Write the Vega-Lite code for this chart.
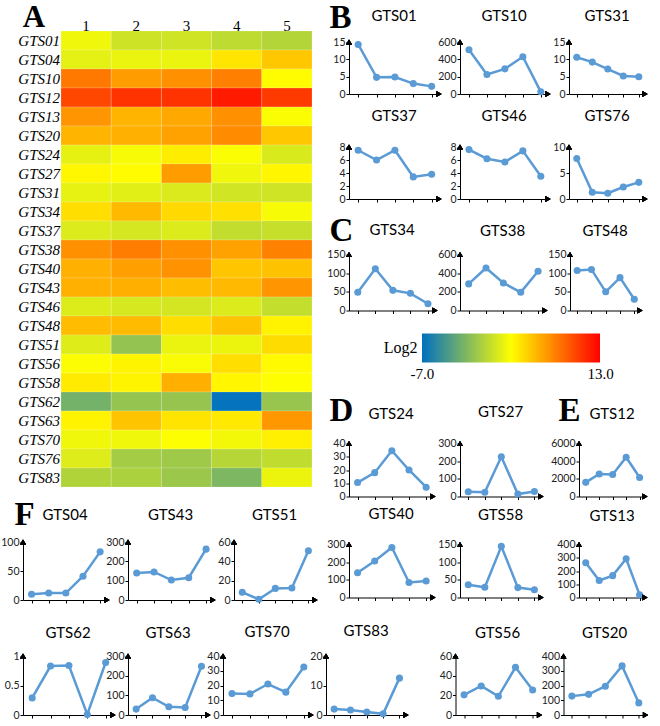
{
"$schema":"https://vega.github.io/schema/vega-lite/v6.json",
"padding":{"left":0,"top":1,"right":0,"bottom":0},
"background":"white",
"datasets":{"expr":[
{"g":"GTS01","t":1,"v":14.3},{"g":"GTS01","t":2,"v":4.8},{"g":"GTS01","t":3,"v":4.9},{"g":"GTS01","t":4,"v":3.0},{"g":"GTS01","t":5,"v":2.2},
{"g":"GTS04","t":1,"v":10},{"g":"GTS04","t":2,"v":12},{"g":"GTS04","t":3,"v":12},{"g":"GTS04","t":4,"v":41},{"g":"GTS04","t":5,"v":83},
{"g":"GTS10","t":1,"v":510},{"g":"GTS10","t":2,"v":225},{"g":"GTS10","t":3,"v":290},{"g":"GTS10","t":4,"v":430},{"g":"GTS10","t":5,"v":25},
{"g":"GTS12","t":1,"v":1600},{"g":"GTS12","t":2,"v":2550},{"g":"GTS12","t":3,"v":2500},{"g":"GTS12","t":4,"v":4450},{"g":"GTS12","t":5,"v":2150},
{"g":"GTS13","t":1,"v":262},{"g":"GTS13","t":2,"v":128},{"g":"GTS13","t":3,"v":165},{"g":"GTS13","t":4,"v":292},{"g":"GTS13","t":5,"v":20},
{"g":"GTS20","t":1,"v":128},{"g":"GTS20","t":2,"v":140},{"g":"GTS20","t":3,"v":195},{"g":"GTS20","t":4,"v":333},{"g":"GTS20","t":5,"v":82},
{"g":"GTS24","t":1,"v":10.5},{"g":"GTS24","t":2,"v":18},{"g":"GTS24","t":3,"v":34.5},{"g":"GTS24","t":4,"v":20},{"g":"GTS24","t":5,"v":7},
{"g":"GTS27","t":1,"v":27},{"g":"GTS27","t":2,"v":24},{"g":"GTS27","t":3,"v":225},{"g":"GTS27","t":4,"v":14},{"g":"GTS27","t":5,"v":28},
{"g":"GTS31","t":1,"v":10.6},{"g":"GTS31","t":2,"v":9.2},{"g":"GTS31","t":3,"v":7.2},{"g":"GTS31","t":4,"v":5.2},{"g":"GTS31","t":5,"v":5.0},
{"g":"GTS34","t":1,"v":49},{"g":"GTS34","t":2,"v":112},{"g":"GTS34","t":3,"v":54},{"g":"GTS34","t":4,"v":46},{"g":"GTS34","t":5,"v":18},
{"g":"GTS37","t":1,"v":7.5},{"g":"GTS37","t":2,"v":6.0},{"g":"GTS37","t":3,"v":7.5},{"g":"GTS37","t":4,"v":3.4},{"g":"GTS37","t":5,"v":3.8},
{"g":"GTS38","t":1,"v":285},{"g":"GTS38","t":2,"v":455},{"g":"GTS38","t":3,"v":295},{"g":"GTS38","t":4,"v":195},{"g":"GTS38","t":5,"v":420},
{"g":"GTS40","t":1,"v":140},{"g":"GTS40","t":2,"v":207},{"g":"GTS40","t":3,"v":283},{"g":"GTS40","t":4,"v":85},{"g":"GTS40","t":5,"v":93},
{"g":"GTS43","t":1,"v":140},{"g":"GTS43","t":2,"v":145},{"g":"GTS43","t":3,"v":103},{"g":"GTS43","t":4,"v":115},{"g":"GTS43","t":5,"v":263},
{"g":"GTS46","t":1,"v":7.6},{"g":"GTS46","t":2,"v":6.2},{"g":"GTS46","t":3,"v":5.7},{"g":"GTS46","t":4,"v":7.4},{"g":"GTS46","t":5,"v":3.5},
{"g":"GTS48","t":1,"v":107},{"g":"GTS48","t":2,"v":110},{"g":"GTS48","t":3,"v":50},{"g":"GTS48","t":4,"v":88},{"g":"GTS48","t":5,"v":30},
{"g":"GTS51","t":1,"v":8},{"g":"GTS51","t":2,"v":0.8},{"g":"GTS51","t":3,"v":12},{"g":"GTS51","t":4,"v":12.5},{"g":"GTS51","t":5,"v":51},
{"g":"GTS56","t":1,"v":20.5},{"g":"GTS56","t":2,"v":29.5},{"g":"GTS56","t":3,"v":19},{"g":"GTS56","t":4,"v":48.5},{"g":"GTS56","t":5,"v":25.5},
{"g":"GTS58","t":1,"v":36},{"g":"GTS58","t":2,"v":29},{"g":"GTS58","t":3,"v":145},{"g":"GTS58","t":4,"v":28},{"g":"GTS58","t":5,"v":22},
{"g":"GTS62","t":1,"v":0.29},{"g":"GTS62","t":2,"v":0.83},{"g":"GTS62","t":3,"v":0.84},{"g":"GTS62","t":4,"v":0.009},{"g":"GTS62","t":5,"v":0.89},
{"g":"GTS63","t":1,"v":30},{"g":"GTS63","t":2,"v":88},{"g":"GTS63","t":3,"v":42},{"g":"GTS63","t":4,"v":38},{"g":"GTS63","t":5,"v":248},
{"g":"GTS70","t":1,"v":14.5},{"g":"GTS70","t":2,"v":14.3},{"g":"GTS70","t":3,"v":21},{"g":"GTS70","t":4,"v":15.5},{"g":"GTS70","t":5,"v":32.5},
{"g":"GTS76","t":1,"v":7.8},{"g":"GTS76","t":2,"v":1.3},{"g":"GTS76","t":3,"v":1.1},{"g":"GTS76","t":4,"v":2.3},{"g":"GTS76","t":5,"v":3.2},
{"g":"GTS83","t":1,"v":2.0},{"g":"GTS83","t":2,"v":1.7},{"g":"GTS83","t":3,"v":1.0},{"g":"GTS83","t":4,"v":0.4},{"g":"GTS83","t":5,"v":12.5}
]},
"data":{"name":"expr"},
"spacing":18,
"vconcat":[
{"hconcat":[
 {"vconcat":[
  {"width":289,"height":445,
   "title":{"text":"A","anchor":"start","frame":"bounds","offset":-16,"dx":5,"font":"Liberation Serif","fontSize":31,"fontWeight":"bold"},
   "mark":{"type":"rect","stroke":"#ffffff","strokeWidth":0.5,"strokeOpacity":0.35},
   "encoding":{
    "x":{"field":"t","type":"ordinal","scale":{"range":[38,289]},"axis":{"orient":"top","offset":6,"title":null,"labelAngle":0,"ticks":false,"domain":false,"labelFont":"Liberation Serif","labelFontSize":15,"labelColor":"#000","labelPadding":3}},
    "y":{"field":"g","type":"ordinal","scale":{"range":[-11,445]},"axis":{"offset":-38,"title":null,"ticks":false,"domain":false,"labelFont":"Liberation Serif","labelFontStyle":"italic","labelFontSize":15,"labelColor":"#000","labelPadding":1.5}},
    "color":{"field":"v","type":"quantitative","legend":null,"scale":{"type":"log","base":2,"domain":[0.0078125,22.627,8192],"range":["#0070C0","#FFFF00","#FF0000"],"interpolate":"rgb","clamp":true}}
   }},
  {"hconcat":[
   {"title":{"text":"GTS04","offset":-24.5},"width":84,"height":58,"transform":[{"filter":"datum.g==='GTS04'"}],
    "encoding":{"x":{"field":"t","type":"quantitative","scale":{"domain":[0.5,5.4]},"axis":{"title":null,"values":[1,2,3,4,5],"labels":false}},
     "y":{"field":"v","type":"quantitative","scale":{"domain":[0,100]},"axis":{"values":[0,50,100],"title":"F","titleAngle":0,"titleX":-9,"titleY":-18,"titleAlign":"left","titleBaseline":"alphabetic"}}},
    "layer":[{"mark":{"type":"line","color":"#5B9BD5","strokeWidth":2.5}},{"mark":{"type":"point","filled":true,"color":"#5B9BD5","size":50,"opacity":1}},
     {"mark":{"type":"point","shape":"triangle-up","filled":true,"color":"#000","size":36,"opacity":1},"encoding":{"x":{"datum":0.5,"type":"quantitative"},"y":{"datum":100,"type":"quantitative"}}},
     {"mark":{"type":"point","shape":"triangle-right","filled":true,"color":"#000","size":36,"opacity":1},"encoding":{"x":{"datum":5.4,"type":"quantitative"},"y":{"datum":0,"type":"quantitative"}}}]},
   {"title":{"text":"GTS43","offset":14},"width":85,"height":58,"transform":[{"filter":"datum.g==='GTS43'"}],
    "encoding":{"x":{"field":"t","type":"quantitative","scale":{"domain":[0.5,5.4]},"axis":{"title":null,"values":[1,2,3,4,5],"labels":false}},
     "y":{"field":"v","type":"quantitative","scale":{"domain":[0,300]},"axis":{"values":[0,100,200,300],"title":null}}},
    "layer":[{"mark":{"type":"line","color":"#5B9BD5","strokeWidth":2.5}},{"mark":{"type":"point","filled":true,"color":"#5B9BD5","size":50,"opacity":1}},
     {"mark":{"type":"point","shape":"triangle-up","filled":true,"color":"#000","size":36,"opacity":1},"encoding":{"x":{"datum":0.5,"type":"quantitative"},"y":{"datum":300,"type":"quantitative"}}},
     {"mark":{"type":"point","shape":"triangle-right","filled":true,"color":"#000","size":36,"opacity":1},"encoding":{"x":{"datum":5.4,"type":"quantitative"},"y":{"datum":0,"type":"quantitative"}}}]},
   {"title":{"text":"GTS51","offset":14},"width":81,"height":58,"transform":[{"filter":"datum.g==='GTS51'"}],
    "encoding":{"x":{"field":"t","type":"quantitative","scale":{"domain":[0.5,5.4]},"axis":{"title":null,"values":[1,2,3,4,5],"labels":false}},
     "y":{"field":"v","type":"quantitative","scale":{"domain":[0,60]},"axis":{"values":[0,20,40,60],"title":null}}},
    "layer":[{"mark":{"type":"line","color":"#5B9BD5","strokeWidth":2.5}},{"mark":{"type":"point","filled":true,"color":"#5B9BD5","size":50,"opacity":1}},
     {"mark":{"type":"point","shape":"triangle-up","filled":true,"color":"#000","size":36,"opacity":1},"encoding":{"x":{"datum":0.5,"type":"quantitative"},"y":{"datum":60,"type":"quantitative"}}},
     {"mark":{"type":"point","shape":"triangle-right","filled":true,"color":"#000","size":36,"opacity":1},"encoding":{"x":{"datum":5.4,"type":"quantitative"},"y":{"datum":0,"type":"quantitative"}}}]}
  ],"bounds":"flush","spacing":21}
 ],"spacing":0},
 {"vconcat":[
  {"vconcat":[
   {"concat":[
    {"title":{"text":"GTS01","offset":-22.5},"width":90,"height":52,"transform":[{"filter":"datum.g==='GTS01'"}],
     "encoding":{"x":{"field":"t","type":"quantitative","scale":{"domain":[0.5,5.4]},"axis":{"title":null,"values":[1,2,3,4,5],"labels":false}},
      "y":{"field":"v","type":"quantitative","scale":{"domain":[0,15]},"axis":{"values":[0,5,10,15],"title":"B","titleAngle":0,"titleX":-20,"titleY":-15,"titleAlign":"left","titleBaseline":"alphabetic"}}},
     "layer":[{"mark":{"type":"line","color":"#5B9BD5","strokeWidth":2.5}},{"mark":{"type":"point","filled":true,"color":"#5B9BD5","size":50,"opacity":1}},
      {"mark":{"type":"point","shape":"triangle-up","filled":true,"color":"#000","size":36,"opacity":1},"encoding":{"x":{"datum":0.5,"type":"quantitative"},"y":{"datum":15,"type":"quantitative"}}},
      {"mark":{"type":"point","shape":"triangle-right","filled":true,"color":"#000","size":36,"opacity":1},"encoding":{"x":{"datum":5.4,"type":"quantitative"},"y":{"datum":0,"type":"quantitative"}}}]},
    {"title":{"text":"GTS10","offset":13},"width":88,"height":52,"transform":[{"filter":"datum.g==='GTS10'"}],
     "encoding":{"x":{"field":"t","type":"quantitative","scale":{"domain":[0.5,5.4]},"axis":{"title":null,"values":[1,2,3,4,5],"labels":false}},
      "y":{"field":"v","type":"quantitative","scale":{"domain":[0,600]},"axis":{"values":[0,200,400,600],"title":null}}},
     "layer":[{"mark":{"type":"line","color":"#5B9BD5","strokeWidth":2.5}},{"mark":{"type":"point","filled":true,"color":"#5B9BD5","size":50,"opacity":1}},
      {"mark":{"type":"point","shape":"triangle-up","filled":true,"color":"#000","size":36,"opacity":1},"encoding":{"x":{"datum":0.5,"type":"quantitative"},"y":{"datum":600,"type":"quantitative"}}},
      {"mark":{"type":"point","shape":"triangle-right","filled":true,"color":"#000","size":36,"opacity":1},"encoding":{"x":{"datum":5.4,"type":"quantitative"},"y":{"datum":0,"type":"quantitative"}}}]},
    {"title":{"text":"GTS31","offset":13},"width":76,"height":52,"transform":[{"filter":"datum.g==='GTS31'"}],
     "encoding":{"x":{"field":"t","type":"quantitative","scale":{"domain":[0.5,5.4]},"axis":{"title":null,"values":[1,2,3,4,5],"labels":false}},
      "y":{"field":"v","type":"quantitative","scale":{"domain":[0,15]},"axis":{"values":[0,5,10,15],"title":null}}},
     "layer":[{"mark":{"type":"line","color":"#5B9BD5","strokeWidth":2.5}},{"mark":{"type":"point","filled":true,"color":"#5B9BD5","size":50,"opacity":1}},
      {"mark":{"type":"point","shape":"triangle-up","filled":true,"color":"#000","size":36,"opacity":1},"encoding":{"x":{"datum":0.5,"type":"quantitative"},"y":{"datum":15,"type":"quantitative"}}},
      {"mark":{"type":"point","shape":"triangle-right","filled":true,"color":"#000","size":36,"opacity":1},"encoding":{"x":{"datum":5.4,"type":"quantitative"},"y":{"datum":0,"type":"quantitative"}}}]},
    {"title":{"text":"GTS37","offset":18},"width":90,"height":52,"transform":[{"filter":"datum.g==='GTS37'"}],
     "encoding":{"x":{"field":"t","type":"quantitative","scale":{"domain":[0.5,5.4]},"axis":{"title":null,"values":[1,2,3,4,5],"labels":false}},
      "y":{"field":"v","type":"quantitative","scale":{"domain":[0,8]},"axis":{"values":[0,2,4,6,8],"title":null}}},
     "layer":[{"mark":{"type":"line","color":"#5B9BD5","strokeWidth":2.5}},{"mark":{"type":"point","filled":true,"color":"#5B9BD5","size":50,"opacity":1}},
      {"mark":{"type":"point","shape":"triangle-up","filled":true,"color":"#000","size":36,"opacity":1},"encoding":{"x":{"datum":0.5,"type":"quantitative"},"y":{"datum":8,"type":"quantitative"}}},
      {"mark":{"type":"point","shape":"triangle-right","filled":true,"color":"#000","size":36,"opacity":1},"encoding":{"x":{"datum":5.4,"type":"quantitative"},"y":{"datum":0,"type":"quantitative"}}}]},
    {"title":{"text":"GTS46","offset":18},"width":88,"height":52,"transform":[{"filter":"datum.g==='GTS46'"}],
     "encoding":{"x":{"field":"t","type":"quantitative","scale":{"domain":[0.5,5.4]},"axis":{"title":null,"values":[1,2,3,4,5],"labels":false}},
      "y":{"field":"v","type":"quantitative","scale":{"domain":[0,8]},"axis":{"values":[0,2,4,6,8],"title":null}}},
     "layer":[{"mark":{"type":"line","color":"#5B9BD5","strokeWidth":2.5}},{"mark":{"type":"point","filled":true,"color":"#5B9BD5","size":50,"opacity":1}},
      {"mark":{"type":"point","shape":"triangle-up","filled":true,"color":"#000","size":36,"opacity":1},"encoding":{"x":{"datum":0.5,"type":"quantitative"},"y":{"datum":8,"type":"quantitative"}}},
      {"mark":{"type":"point","shape":"triangle-right","filled":true,"color":"#000","size":36,"opacity":1},"encoding":{"x":{"datum":5.4,"type":"quantitative"},"y":{"datum":0,"type":"quantitative"}}}]},
    {"title":{"text":"GTS76","offset":18},"width":76,"height":52,"transform":[{"filter":"datum.g==='GTS76'"}],
     "encoding":{"x":{"field":"t","type":"quantitative","scale":{"domain":[0.5,5.4]},"axis":{"title":null,"values":[1,2,3,4,5],"labels":false}},
      "y":{"field":"v","type":"quantitative","scale":{"domain":[0,10]},"axis":{"values":[0,5,10],"title":null}}},
     "layer":[{"mark":{"type":"line","color":"#5B9BD5","strokeWidth":2.5}},{"mark":{"type":"point","filled":true,"color":"#5B9BD5","size":50,"opacity":1}},
      {"mark":{"type":"point","shape":"triangle-up","filled":true,"color":"#000","size":36,"opacity":1},"encoding":{"x":{"datum":0.5,"type":"quantitative"},"y":{"datum":10,"type":"quantitative"}}},
      {"mark":{"type":"point","shape":"triangle-right","filled":true,"color":"#000","size":36,"opacity":1},"encoding":{"x":{"datum":5.4,"type":"quantitative"},"y":{"datum":0,"type":"quantitative"}}}]}
   ],"columns":3,"bounds":"flush","align":"each","spacing":{"row":53,"column":21}},
   {"hconcat":[
    {"title":{"text":"GTS34","offset":-23.5},"width":86,"height":56,"transform":[{"filter":"datum.g==='GTS34'"}],
     "encoding":{"x":{"field":"t","type":"quantitative","scale":{"domain":[0.5,5.4]},"axis":{"title":null,"values":[1,2,3,4,5],"labels":false}},
      "y":{"field":"v","type":"quantitative","scale":{"domain":[0,150]},"axis":{"values":[0,50,100,150],"title":"C","titleAngle":0,"titleX":-20,"titleY":-14,"titleAlign":"left","titleBaseline":"alphabetic"}}},
     "layer":[{"mark":{"type":"line","color":"#5B9BD5","strokeWidth":2.5}},{"mark":{"type":"point","filled":true,"color":"#5B9BD5","size":50,"opacity":1}},
      {"mark":{"type":"point","shape":"triangle-up","filled":true,"color":"#000","size":36,"opacity":1},"encoding":{"x":{"datum":0.5,"type":"quantitative"},"y":{"datum":150,"type":"quantitative"}}},
      {"mark":{"type":"point","shape":"triangle-right","filled":true,"color":"#000","size":36,"opacity":1},"encoding":{"x":{"datum":5.4,"type":"quantitative"},"y":{"datum":0,"type":"quantitative"}}}]},
    {"title":{"text":"GTS38","offset":11},"width":85,"height":56,"transform":[{"filter":"datum.g==='GTS38'"}],
     "encoding":{"x":{"field":"t","type":"quantitative","scale":{"domain":[0.5,5.4]},"axis":{"title":null,"values":[1,2,3,4,5],"labels":false}},
      "y":{"field":"v","type":"quantitative","scale":{"domain":[0,600]},"axis":{"values":[0,200,400,600],"title":null}}},
     "layer":[{"mark":{"type":"line","color":"#5B9BD5","strokeWidth":2.5}},{"mark":{"type":"point","filled":true,"color":"#5B9BD5","size":50,"opacity":1}},
      {"mark":{"type":"point","shape":"triangle-up","filled":true,"color":"#000","size":36,"opacity":1},"encoding":{"x":{"datum":0.5,"type":"quantitative"},"y":{"datum":600,"type":"quantitative"}}},
      {"mark":{"type":"point","shape":"triangle-right","filled":true,"color":"#000","size":36,"opacity":1},"encoding":{"x":{"datum":5.4,"type":"quantitative"},"y":{"datum":0,"type":"quantitative"}}}]},
    {"title":{"text":"GTS48","offset":11},"width":70,"height":56,"transform":[{"filter":"datum.g==='GTS48'"}],
     "encoding":{"x":{"field":"t","type":"quantitative","scale":{"domain":[0.5,5.4]},"axis":{"title":null,"values":[1,2,3,4,5],"labels":false}},
      "y":{"field":"v","type":"quantitative","scale":{"domain":[0,150]},"axis":{"values":[0,50,100,150],"title":null}}},
     "layer":[{"mark":{"type":"line","color":"#5B9BD5","strokeWidth":2.5}},{"mark":{"type":"point","filled":true,"color":"#5B9BD5","size":50,"opacity":1}},
      {"mark":{"type":"point","shape":"triangle-up","filled":true,"color":"#000","size":36,"opacity":1},"encoding":{"x":{"datum":0.5,"type":"quantitative"},"y":{"datum":150,"type":"quantitative"}}},
      {"mark":{"type":"point","shape":"triangle-right","filled":true,"color":"#000","size":36,"opacity":1},"encoding":{"x":{"datum":5.4,"type":"quantitative"},"y":{"datum":0,"type":"quantitative"}}}]}
   ],"bounds":"flush","spacing":25}
  ],"spacing":9.5},
  {"vconcat":[
   {"width":251,"height":29,
    "data":{"values":[{"lo":-7,"hi":13}]},
    "mark":{"type":"rect","fill":{"gradient":"linear","stops":[{"offset":0,"color":"#0070C0"},{"offset":0.5,"color":"#FFFF00"},{"offset":1,"color":"#FF0000"}]}},
    "encoding":{
     "x":{"field":"lo","type":"quantitative","scale":{"domain":[-15.202,13],"nice":false,"zero":false},"axis":{"values":[-7,13],"format":".1f","labelExpr":"replace(datum.label, '\u2212', '-')","ticks":false,"domain":false,"labelFlush":false,"labelFont":"Liberation Serif","labelFontSize":15,"labelColor":"#000","labelPadding":4,"title":"Log2","titleX":68,"titleY":-15,"titleAngle":0,"titleAlign":"right","titleBaseline":"middle","titleFont":"Liberation Serif","titleFontSize":16,"titleFontWeight":"normal"}},
     "x2":{"field":"hi"}
    }},
   {"hconcat":[
    {"concat":[
     {"title":{"text":"GTS24","offset":-27.5},"width":84,"height":53,"transform":[{"filter":"datum.g==='GTS24'"}],
      "encoding":{"x":{"field":"t","type":"quantitative","scale":{"domain":[0.5,5.4]},"axis":{"title":null,"values":[1,2,3,4,5],"labels":false}},
       "y":{"field":"v","type":"quantitative","scale":{"domain":[0,40]},"axis":{"values":[0,10,20,30,40],"title":"D","titleAngle":0,"titleX":-20,"titleY":-23,"titleAlign":"left","titleBaseline":"alphabetic"}}},
      "layer":[{"mark":{"type":"line","color":"#5B9BD5","strokeWidth":2.5}},{"mark":{"type":"point","filled":true,"color":"#5B9BD5","size":50,"opacity":1}},
       {"mark":{"type":"point","shape":"triangle-up","filled":true,"color":"#000","size":36,"opacity":1},"encoding":{"x":{"datum":0.5,"type":"quantitative"},"y":{"datum":40,"type":"quantitative"}}},
       {"mark":{"type":"point","shape":"triangle-right","filled":true,"color":"#000","size":36,"opacity":1},"encoding":{"x":{"datum":5.4,"type":"quantitative"},"y":{"datum":0,"type":"quantitative"}}}]},
     {"title":{"text":"GTS27","offset":19},"width":81,"height":53,"transform":[{"filter":"datum.g==='GTS27'"}],
      "encoding":{"x":{"field":"t","type":"quantitative","scale":{"domain":[0.5,5.4]},"axis":{"title":null,"values":[1,2,3,4,5],"labels":false}},
       "y":{"field":"v","type":"quantitative","scale":{"domain":[0,300]},"axis":{"values":[0,100,200,300],"title":null}}},
      "layer":[{"mark":{"type":"line","color":"#5B9BD5","strokeWidth":2.5}},{"mark":{"type":"point","filled":true,"color":"#5B9BD5","size":50,"opacity":1}},
       {"mark":{"type":"point","shape":"triangle-up","filled":true,"color":"#000","size":36,"opacity":1},"encoding":{"x":{"datum":0.5,"type":"quantitative"},"y":{"datum":300,"type":"quantitative"}}},
       {"mark":{"type":"point","shape":"triangle-right","filled":true,"color":"#000","size":36,"opacity":1},"encoding":{"x":{"datum":5.4,"type":"quantitative"},"y":{"datum":0,"type":"quantitative"}}}]},
     {"title":{"text":"GTS40","offset":18},"width":84,"height":53,"transform":[{"filter":"datum.g==='GTS40'"}],
      "encoding":{"x":{"field":"t","type":"quantitative","scale":{"domain":[0.5,5.4]},"axis":{"title":null,"values":[1,2,3,4,5],"labels":false}},
       "y":{"field":"v","type":"quantitative","scale":{"domain":[0,300]},"axis":{"values":[0,100,200,300],"title":null}}},
      "layer":[{"mark":{"type":"line","color":"#5B9BD5","strokeWidth":2.5}},{"mark":{"type":"point","filled":true,"color":"#5B9BD5","size":50,"opacity":1}},
       {"mark":{"type":"point","shape":"triangle-up","filled":true,"color":"#000","size":36,"opacity":1},"encoding":{"x":{"datum":0.5,"type":"quantitative"},"y":{"datum":300,"type":"quantitative"}}},
       {"mark":{"type":"point","shape":"triangle-right","filled":true,"color":"#000","size":36,"opacity":1},"encoding":{"x":{"datum":5.4,"type":"quantitative"},"y":{"datum":0,"type":"quantitative"}}}]},
     {"title":{"text":"GTS58","offset":16.5},"width":81,"height":53,"transform":[{"filter":"datum.g==='GTS58'"}],
      "encoding":{"x":{"field":"t","type":"quantitative","scale":{"domain":[0.5,5.4]},"axis":{"title":null,"values":[1,2,3,4,5],"labels":false}},
       "y":{"field":"v","type":"quantitative","scale":{"domain":[0,150]},"axis":{"values":[0,50,100,150],"title":null}}},
      "layer":[{"mark":{"type":"line","color":"#5B9BD5","strokeWidth":2.5}},{"mark":{"type":"point","filled":true,"color":"#5B9BD5","size":50,"opacity":1}},
       {"mark":{"type":"point","shape":"triangle-up","filled":true,"color":"#000","size":36,"opacity":1},"encoding":{"x":{"datum":0.5,"type":"quantitative"},"y":{"datum":150,"type":"quantitative"}}},
       {"mark":{"type":"point","shape":"triangle-right","filled":true,"color":"#000","size":36,"opacity":1},"encoding":{"x":{"datum":5.4,"type":"quantitative"},"y":{"datum":0,"type":"quantitative"}}}]}
    ],"columns":2,"bounds":"flush","align":"each","spacing":{"row":48,"column":27}},
    {"vconcat":[
     {"title":{"text":"GTS12","offset":-27.5},"width":66,"height":53,"transform":[{"filter":"datum.g==='GTS12'"}],
      "encoding":{"x":{"field":"t","type":"quantitative","scale":{"domain":[0.5,5.4]},"axis":{"title":null,"values":[1,2,3,4,5],"labels":false}},
       "y":{"field":"v","type":"quantitative","scale":{"domain":[0,6000]},"axis":{"values":[0,2000,4000,6000],"format":"d","title":"E","titleAngle":0,"titleX":-21,"titleY":-23,"titleAlign":"left","titleBaseline":"alphabetic"}}},
      "layer":[{"mark":{"type":"line","color":"#5B9BD5","strokeWidth":2.5}},{"mark":{"type":"point","filled":true,"color":"#5B9BD5","size":50,"opacity":1}},
       {"mark":{"type":"point","shape":"triangle-up","filled":true,"color":"#000","size":36,"opacity":1},"encoding":{"x":{"datum":0.5,"type":"quantitative"},"y":{"datum":6000,"type":"quantitative"}}},
       {"mark":{"type":"point","shape":"triangle-right","filled":true,"color":"#000","size":36,"opacity":1},"encoding":{"x":{"datum":5.4,"type":"quantitative"},"y":{"datum":0,"type":"quantitative"}}}]},
     {"title":{"text":"GTS13","offset":16},"width":66,"height":53,"transform":[{"filter":"datum.g==='GTS13'"}],
      "encoding":{"x":{"field":"t","type":"quantitative","scale":{"domain":[0.5,5.4]},"axis":{"title":null,"values":[1,2,3,4,5],"labels":false}},
       "y":{"field":"v","type":"quantitative","scale":{"domain":[0,400]},"axis":{"values":[0,100,200,300,400],"title":null}}},
      "layer":[{"mark":{"type":"line","color":"#5B9BD5","strokeWidth":2.5}},{"mark":{"type":"point","filled":true,"color":"#5B9BD5","size":50,"opacity":1}},
       {"mark":{"type":"point","shape":"triangle-up","filled":true,"color":"#000","size":36,"opacity":1},"encoding":{"x":{"datum":0.5,"type":"quantitative"},"y":{"datum":400,"type":"quantitative"}}},
       {"mark":{"type":"point","shape":"triangle-right","filled":true,"color":"#000","size":36,"opacity":1},"encoding":{"x":{"datum":5.4,"type":"quantitative"},"y":{"datum":0,"type":"quantitative"}}}]}
    ],"bounds":"flush","spacing":48}
   ],"spacing":6}
  ],"spacing":13}
 ],"spacing":17.5}
],"spacing":8},
{"hconcat":[
 {"hconcat":[
  {"title":{"text":"GTS62","offset":10},"width":90,"height":59,"transform":[{"filter":"datum.g==='GTS62'"}],
   "encoding":{"x":{"field":"t","type":"quantitative","scale":{"domain":[0.5,5.4]},"axis":{"title":null,"values":[1,2,3,4,5],"labels":false}},
    "y":{"field":"v","type":"quantitative","scale":{"domain":[0,1]},"axis":{"values":[0,0.5,1],"format":"~g","title":null}}},
   "layer":[{"mark":{"type":"line","color":"#5B9BD5","strokeWidth":2.5}},{"mark":{"type":"point","filled":true,"color":"#5B9BD5","size":50,"opacity":1}},
    {"mark":{"type":"point","shape":"triangle-up","filled":true,"color":"#000","size":36,"opacity":1},"encoding":{"x":{"datum":0.5,"type":"quantitative"},"y":{"datum":1,"type":"quantitative"}}},
    {"mark":{"type":"point","shape":"triangle-right","filled":true,"color":"#000","size":36,"opacity":1},"encoding":{"x":{"datum":5.4,"type":"quantitative"},"y":{"datum":0,"type":"quantitative"}}}]},
  {"title":{"text":"GTS63","offset":10.5},"width":80,"height":59,"transform":[{"filter":"datum.g==='GTS63'"}],
   "encoding":{"x":{"field":"t","type":"quantitative","scale":{"domain":[0.5,5.4]},"axis":{"title":null,"values":[1,2,3,4,5],"labels":false}},
    "y":{"field":"v","type":"quantitative","scale":{"domain":[0,300]},"axis":{"values":[0,100,200,300],"title":null}}},
   "layer":[{"mark":{"type":"line","color":"#5B9BD5","strokeWidth":2.5}},{"mark":{"type":"point","filled":true,"color":"#5B9BD5","size":50,"opacity":1}},
    {"mark":{"type":"point","shape":"triangle-up","filled":true,"color":"#000","size":36,"opacity":1},"encoding":{"x":{"datum":0.5,"type":"quantitative"},"y":{"datum":300,"type":"quantitative"}}},
    {"mark":{"type":"point","shape":"triangle-right","filled":true,"color":"#000","size":36,"opacity":1},"encoding":{"x":{"datum":5.4,"type":"quantitative"},"y":{"datum":0,"type":"quantitative"}}}]},
  {"title":{"text":"GTS70","offset":11.5},"width":88,"height":59,"transform":[{"filter":"datum.g==='GTS70'"}],
   "encoding":{"x":{"field":"t","type":"quantitative","scale":{"domain":[0.5,5.4]},"axis":{"title":null,"values":[1,2,3,4,5],"labels":false}},
    "y":{"field":"v","type":"quantitative","scale":{"domain":[0,40]},"axis":{"values":[0,10,20,30,40],"title":null}}},
   "layer":[{"mark":{"type":"line","color":"#5B9BD5","strokeWidth":2.5}},{"mark":{"type":"point","filled":true,"color":"#5B9BD5","size":50,"opacity":1}},
    {"mark":{"type":"point","shape":"triangle-up","filled":true,"color":"#000","size":36,"opacity":1},"encoding":{"x":{"datum":0.5,"type":"quantitative"},"y":{"datum":40,"type":"quantitative"}}},
    {"mark":{"type":"point","shape":"triangle-right","filled":true,"color":"#000","size":36,"opacity":1},"encoding":{"x":{"datum":5.4,"type":"quantitative"},"y":{"datum":0,"type":"quantitative"}}}]},
  {"title":{"text":"GTS83","offset":12},"width":80,"height":59,"transform":[{"filter":"datum.g==='GTS83'"}],
   "encoding":{"x":{"field":"t","type":"quantitative","scale":{"domain":[0.5,5.4]},"axis":{"title":null,"values":[1,2,3,4,5],"labels":false}},
    "y":{"field":"v","type":"quantitative","scale":{"domain":[0,20]},"axis":{"values":[0,10,20],"title":null}}},
   "layer":[{"mark":{"type":"line","color":"#5B9BD5","strokeWidth":2.5}},{"mark":{"type":"point","filled":true,"color":"#5B9BD5","size":50,"opacity":1}},
    {"mark":{"type":"point","shape":"triangle-up","filled":true,"color":"#000","size":36,"opacity":1},"encoding":{"x":{"datum":0.5,"type":"quantitative"},"y":{"datum":20,"type":"quantitative"}}},
    {"mark":{"type":"point","shape":"triangle-right","filled":true,"color":"#000","size":36,"opacity":1},"encoding":{"x":{"datum":5.4,"type":"quantitative"},"y":{"datum":0,"type":"quantitative"}}}]}
 ],"bounds":"flush","spacing":15},
 {"hconcat":[
  {"title":{"text":"GTS56","offset":10},"width":84,"height":59,"transform":[{"filter":"datum.g==='GTS56'"}],
   "encoding":{"x":{"field":"t","type":"quantitative","scale":{"domain":[0.5,5.4]},"axis":{"title":null,"values":[1,2,3,4,5],"labels":false}},
    "y":{"field":"v","type":"quantitative","scale":{"domain":[0,60]},"axis":{"values":[0,20,40,60],"title":null}}},
   "layer":[{"mark":{"type":"line","color":"#5B9BD5","strokeWidth":2.5}},{"mark":{"type":"point","filled":true,"color":"#5B9BD5","size":50,"opacity":1}},
    {"mark":{"type":"point","shape":"triangle-up","filled":true,"color":"#000","size":36,"opacity":1},"encoding":{"x":{"datum":0.5,"type":"quantitative"},"y":{"datum":60,"type":"quantitative"}}},
    {"mark":{"type":"point","shape":"triangle-right","filled":true,"color":"#000","size":36,"opacity":1},"encoding":{"x":{"datum":5.4,"type":"quantitative"},"y":{"datum":0,"type":"quantitative"}}}]},
  {"title":{"text":"GTS20","offset":10},"width":82,"height":59,"transform":[{"filter":"datum.g==='GTS20'"}],
   "encoding":{"x":{"field":"t","type":"quantitative","scale":{"domain":[0.5,5.4]},"axis":{"title":null,"values":[1,2,3,4,5],"labels":false}},
    "y":{"field":"v","type":"quantitative","scale":{"domain":[0,400]},"axis":{"values":[0,100,200,300,400],"title":null}}},
   "layer":[{"mark":{"type":"line","color":"#5B9BD5","strokeWidth":2.5}},{"mark":{"type":"point","filled":true,"color":"#5B9BD5","size":50,"opacity":1}},
    {"mark":{"type":"point","shape":"triangle-up","filled":true,"color":"#000","size":36,"opacity":1},"encoding":{"x":{"datum":0.5,"type":"quantitative"},"y":{"datum":400,"type":"quantitative"}}},
    {"mark":{"type":"point","shape":"triangle-right","filled":true,"color":"#000","size":36,"opacity":1},"encoding":{"x":{"datum":5.4,"type":"quantitative"},"y":{"datum":0,"type":"quantitative"}}}]}
 ],"bounds":"flush","spacing":24}
],"spacing":29.5}
],
"config":{
 "view":{"stroke":null},
 "axis":{"grid":false,"domainColor":"#000","tickColor":"#000","labelFont":"Lato","labelFontSize":10.5,"labelColor":"#222","tickSize":3,"labelPadding":1,"titleFont":"Liberation Serif","titleFontSize":33,"titleFontWeight":"bold","titleColor":"#000"},
 "title":{"font":"Lato","fontSize":15,"fontWeight":"normal","color":"#000","frame":"group"}
}
}
